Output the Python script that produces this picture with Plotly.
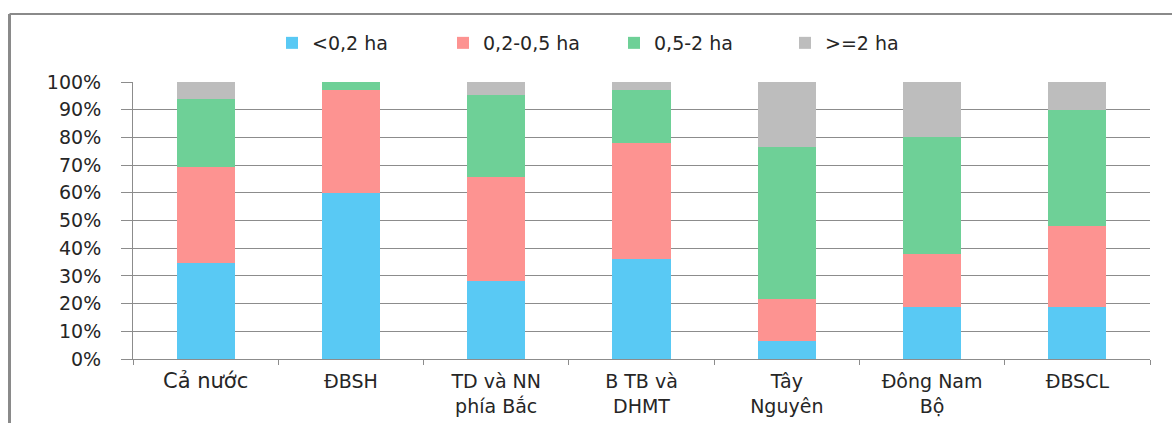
import plotly.graph_objects as go

categories = ["Cả nước", "ĐBSH", "TD và NN phía Bắc", "B TB và DHMT",
              "Tây Nguyên", "Đông Nam Bộ", "ĐBSCL"]
tick_labels = ["<span style='font-size:21px'>Cả nước</span>", "ĐBSH",
               "TD và NN<br>phía Bắc", "B TB và<br>DHMT",
               "Tây<br>Nguyên", "Đông Nam<br>Bộ", "ĐBSCL"]

series_names = ["<0,2 ha", "0,2-0,5 ha", "0,5-2 ha", ">=2 ha"]
lt_02 = [34.7, 60.0, 28.2, 36.1, 6.4, 18.8, 18.8]
s02_05 = [34.6, 37.0, 37.5, 41.9, 15.2, 19.1, 29.2]
s05_2 = [24.6, 3.0, 29.7, 19.1, 55.1, 42.2, 42.0]
ge_2 = [6.1, 0.0, 4.6, 2.9, 23.3, 19.9, 10.0]
colors = ["#59C9F4", "#FD9391", "#6ED097", "#BDBDBD"]

y_ticks = list(range(0, 101, 10))
y_tick_labels = [f"{v}%" for v in y_ticks]

fig = go.Figure()
for name, vals, col in zip(series_names, [lt_02, s02_05, s05_2, ge_2], colors):
    fig.add_trace(go.Bar(x=categories, y=vals, name=name,
                         marker=dict(color=col, line=dict(width=0))))

W, H = 1172, 423
L, R, T, B = 133, 22, 82, 64
pw, ph = W - L - R, H - T - B

def px_x(x):
    return (x - L) / pw

def px_y(y):
    return (H - B - y) / ph

font_family = "DejaVu Sans, sans-serif"
fig.update_layout(
    width=W, height=H,
    margin=dict(l=L, r=R, t=T, b=B, autoexpand=False),
    barmode="stack", bargap=0.6,
    paper_bgcolor="white", plot_bgcolor="white",
    font=dict(family=font_family, size=19, color="#262626"),
    legend=dict(orientation="h", x=px_x(272), xanchor="left",
                y=px_y(43), yanchor="middle", font=dict(size=19),
                entrywidth=126, entrywidthmode="pixels",
                traceorder="normal", itemclick=False),
    showlegend=True,
    shapes=[
        dict(type="line", xref="paper", yref="paper",
             x0=px_x(9.5), x1=px_x(1172), y0=px_y(14), y1=px_y(14),
             line=dict(color="#8a8a8a", width=2)),
        dict(type="line", xref="paper", yref="paper",
             x0=px_x(9.5), x1=px_x(9.5), y0=px_y(14), y1=px_y(423),
             line=dict(color="#8a8a8a", width=3)),
    ],
)
fig.update_xaxes(
    type="category", tickmode="array", tickvals=categories, ticktext=tick_labels,
    tickson="boundaries", ticks="outside", ticklen=5, tickcolor="#8c8c8c",
    showline=True, linecolor="#8c8c8c", linewidth=1, showgrid=False,
    tickfont=dict(size=19), ticklabelstandoff=5, fixedrange=True,
    automargin=False,
)
fig.update_yaxes(
    range=[0, 100], tickmode="array", tickvals=y_ticks, ticktext=y_tick_labels,
    ticks="outside", ticklen=11, tickcolor="#8c8c8c",
    showline=True, linecolor="#8c8c8c", linewidth=1,
    showgrid=True, gridcolor="#8c8c8c", gridwidth=1, zeroline=False,
    tickfont=dict(size=19), ticklabelstandoff=16, fixedrange=True,
    automargin=False,
)

fig.write_html("out.html", config={"displayModeBar": False})
